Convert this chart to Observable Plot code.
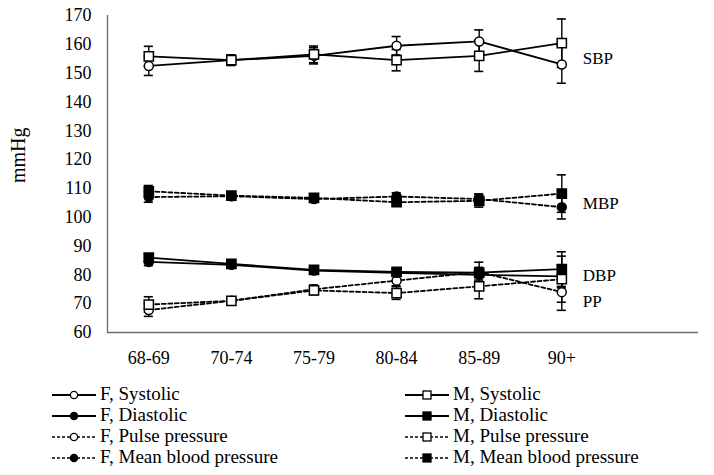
<!DOCTYPE html>
<html>
<head>
<meta charset="utf-8">
<script src="https://cdn.jsdelivr.net/npm/d3@7"></script>
<script src="https://cdn.jsdelivr.net/npm/@observablehq/plot@0.6"></script>
<style>
  body { margin: 0; background: #fff; font-family: "Liberation Serif", "Times New Roman", "DejaVu Serif", serif; }
  #wrap { position: relative; width: 714px; height: 475px; }
  #legend { position: absolute; left: 0; top: 384px; width: 714px; }
  .item { position: absolute; height: 21px; line-height: 21px; font-size: 19px; white-space: nowrap; color: #000;
          font-family: "Liberation Serif", "Times New Roman", serif; }
  .item svg { position: absolute; left: 0; top: 0; }
  .item span { position: absolute; top: 0px; line-height: 20px; font-family: "Liberation Serif", "Times New Roman", serif; }
</style>
</head>
<body>
<div id="wrap"><div id="chart"></div><div id="legend"></div></div>
<script>
const ages = ["68-69", "70-74", "75-79", "80-84", "85-89", "90+"];

const fSystolic    = [152.5, 154.5, 156.0, 159.5, 161.0, 153.0];
const fSystolicErr = [3.3, 1.8, 2.8, 3.2, 4.0, 6.5];
const mSystolic    = [155.8, 154.5, 156.5, 154.5, 156.0, 160.4];
const mSystolicErr = [3.5, 1.8, 2.9, 3.7, 5.4, 8.4];

const fDiastolic    = [84.5, 83.5, 81.5, 80.7, 80.0, 79.5];
const fDiastolicErr = [1.3, 0.8, 0.9, 1.0, 1.8, 4.0];
const mDiastolic    = [86.0, 83.8, 81.7, 81.0, 80.8, 82.0];
const mDiastolicErr = [1.3, 0.8, 0.9, 1.0, 1.8, 6.0];

const fPulse    = [67.8, 71.0, 75.0, 78.0, 81.0, 74.0];
const fPulseErr = [2.2, 0.8, 1.5, 1.8, 3.4, 6.3];
const mPulse    = [69.7, 71.0, 74.6, 73.7, 76.0, 78.5];
const mPulseErr = [2.7, 0.8, 1.5, 2.2, 4.3, 8.0];

const fMean    = [107.0, 107.3, 106.3, 107.2, 106.3, 103.5];
const fMeanErr = [1.8, 0.8, 1.0, 1.3, 1.8, 4.1];
const mMean    = [109.0, 107.5, 106.7, 105.2, 105.7, 108.2];
const mMeanErr = [2.0, 0.8, 1.0, 1.3, 2.2, 6.5];

const yTicks = [60, 70, 80, 90, 100, 110, 120, 130, 140, 150, 160, 170];

const groupLabels = ["SBP", "MBP", "DBP", "PP"];
const groupLabelValues = [155.2, 104.9, 79.8, 70.8];

const series = [
  {name: "F, Systolic", sex: "F", values: fSystolic, err: fSystolicErr, dashed: false, filled: false},
  {name: "F, Diastolic", sex: "F", values: fDiastolic, err: fDiastolicErr, dashed: false, filled: true},
  {name: "F, Pulse pressure", sex: "F", values: fPulse, err: fPulseErr, dashed: true, filled: false},
  {name: "F, Mean blood pressure", sex: "F", values: fMean, err: fMeanErr, dashed: true, filled: true},
  {name: "M, Systolic", sex: "M", values: mSystolic, err: mSystolicErr, dashed: false, filled: false},
  {name: "M, Diastolic", sex: "M", values: mDiastolic, err: mDiastolicErr, dashed: false, filled: true},
  {name: "M, Pulse pressure", sex: "M", values: mPulse, err: mPulseErr, dashed: true, filled: false},
  {name: "M, Mean blood pressure", sex: "M", values: mMean, err: mMeanErr, dashed: true, filled: true}
];

const rows = series.flatMap(s => ages.map((a, i) => ({
  series: s.name, sex: s.sex, dashed: s.dashed, filled: s.filled,
  i, age: a, v: s.values[i], lo: s.values[i] - s.err[i], hi: s.values[i] + s.err[i]
})));
const labelRows = groupLabels.map((t, k) => ({t, v: groupLabelValues[k], i: ages.length - 1}));

const cap = 0.055;
const DASH = "4,2.5";
const font = '"Liberation Serif", "Times New Roman", "DejaVu Serif", serif';

const chart = Plot.plot({
  width: 714, height: 375,
  marginLeft: 107, marginRight: 16, marginTop: 15, marginBottom: 43,
  style: {fontFamily: font, fontSize: "18px", color: "#000", background: "#fff"},
  x: {type: "linear", domain: [-0.5, 6.655], ticks: d3.range(ages.length), tickFormat: i => ages[i],
      tickSize: 0, tickPadding: 19, label: null},
  y: {domain: [60, 170], ticks: yTicks, tickSize: 0, tickPadding: 16, label: null},
  marks: [
    Plot.ruleX([-0.5], {stroke: "#6b6b6b", strokeWidth: 1.3}),
    Plot.ruleY([60], {stroke: "#6b6b6b", strokeWidth: 1.6}),
    // error bars
    Plot.ruleX(rows, {x: "i", y1: "lo", y2: "hi", stroke: "#000", strokeWidth: 1.4}),
    Plot.ruleY(rows, {y: "lo", x1: d => d.i - cap, x2: d => d.i + cap, stroke: "#000", strokeWidth: 1.6}),
    Plot.ruleY(rows, {y: "hi", x1: d => d.i - cap, x2: d => d.i + cap, stroke: "#000", strokeWidth: 1.6}),
    // lines
    Plot.line(rows.filter(d => !d.dashed), {x: "i", y: "v", z: "series", stroke: "#000", strokeWidth: 1.8}),
    Plot.line(rows.filter(d => d.dashed), {x: "i", y: "v", z: "series", stroke: "#000", strokeWidth: 1.8, strokeDasharray: DASH}),
    // markers
    Plot.dot(rows.filter(d => d.sex === "F" && !d.filled), {x: "i", y: "v", r: 4.5, fill: "#fff", stroke: "#000", strokeWidth: 1.5}),
    Plot.dot(rows.filter(d => d.sex === "F" && d.filled), {x: "i", y: "v", r: 4.5, fill: "#000", stroke: "#000", strokeWidth: 1.5}),
    Plot.dot(rows.filter(d => d.sex === "M" && !d.filled), {x: "i", y: "v", symbol: "square", r: 5.2, fill: "#fff", stroke: "#000", strokeWidth: 1.5}),
    Plot.dot(rows.filter(d => d.sex === "M" && d.filled), {x: "i", y: "v", symbol: "square", r: 5.2, fill: "#000", stroke: "#000", strokeWidth: 1.5}),
    // group labels
    Plot.text(labelRows, {x: "i", y: "v", text: "t", dx: 21, textAnchor: "start", fontSize: 17, fill: "#000"}),
    // axis title
    Plot.text(["mmHg"], {frameAnchor: "left", text: d => d, rotate: -90, dx: -89, dy: 9, fontSize: 20, fill: "#000"})
  ]
});
document.getElementById("chart").appendChild(chart);

// legend
const legend = document.getElementById("legend");
const ns = "http://www.w3.org/2000/svg";
const cols = {F: 52, M: 405};
series.forEach((s, k) => {
  const row = k % 4;
  const item = document.createElement("div");
  item.className = "item";
  item.style.left = cols[s.sex] + "px";
  item.style.top = (row * 21) + "px";
  const svg = document.createElementNS(ns, "svg");
  svg.setAttribute("width", 46); svg.setAttribute("height", 21);
  const line = document.createElementNS(ns, "line");
  line.setAttribute("x1", 0); line.setAttribute("x2", 44);
  line.setAttribute("y1", 11); line.setAttribute("y2", 11);
  line.setAttribute("stroke", "#000");
  line.setAttribute("stroke-width", s.dashed ? 1.3 : 1.8);
  if (s.dashed) line.setAttribute("stroke-dasharray", "3,2");
  svg.appendChild(line);
  let m;
  if (s.sex === "F") {
    m = document.createElementNS(ns, "circle");
    m.setAttribute("cx", 22); m.setAttribute("cy", 11); m.setAttribute("r", 3.6);
  } else {
    m = document.createElementNS(ns, "rect");
    m.setAttribute("x", 18); m.setAttribute("y", 7); m.setAttribute("width", 8); m.setAttribute("height", 8);
  }
  m.setAttribute("fill", s.filled ? "#000" : "#fff");
  m.setAttribute("stroke", "#000"); m.setAttribute("stroke-width", 1.3);
  svg.appendChild(m);
  item.appendChild(svg);
  const span = document.createElement("span");
  span.style.left = "48px";
  span.textContent = s.name;
  item.appendChild(span);
  legend.appendChild(item);
});
</script>
</body>
</html>
